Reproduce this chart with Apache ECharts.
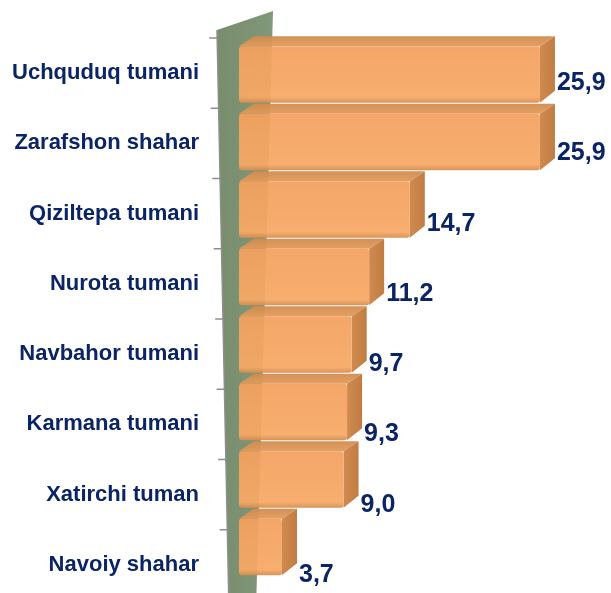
<!DOCTYPE html>
<html>
<head>
<meta charset="utf-8">
<script src="https://cdn.jsdelivr.net/npm/echarts@6/dist/echarts.min.js"></script>
<style>
  html, body { margin: 0; padding: 0; background: #fff; }
  #chart { width: 611px; height: 593px; }
</style>
</head>
<body>
<div id="chart"></div>
<script>
// data
const categories = [
  "Uchquduq tumani",
  "Zarafshon shahar",
  "Qiziltepa tumani",
  "Nurota tumani",
  "Navbahor tumani",
  "Karmana tumani",
  "Xatirchi tuman",
  "Navoiy shahar",
];
const values = [25.9, 25.9, 14.7, 11.2, 9.7, 9.3, 9.0, 3.7];

const textColor = "#0a2464";
const depthX = 15; // box depth, to the right
const depthY = 10; // box depth, upwards

const myChart = echarts.init(document.getElementById("chart"));

// green side wall + axis ticks along its left edge
function wallLeftX(y) {
  return 217 + ((y - 30) * 12) / 563;
}
function renderWall(params, api) {
  const cs = params.coordSys;
  const pts = [
    [cs.x - 22, cs.y - 8],
    [cs.x + 34, cs.y - 27],
    [cs.x + 17, cs.y + cs.height + 10],
    [cs.x - 10, cs.y + cs.height + 10],
  ];
  return {
    type: "group",
    children: [
      {
        type: "polygon",
        shape: { points: pts },
        style: {
          fill: new echarts.graphic.LinearGradient(0, 0, 1, 0, [
            { offset: 0, color: "#778d6c" },
            { offset: 1, color: "#81977a" },
          ]),
        },
      },
      {
        type: "line",
        shape: { x1: pts[0][0], y1: pts[0][1], x2: pts[3][0], y2: pts[3][1] },
        style: { stroke: "#8e8e8e", lineWidth: 1.5 },
      },
    ],
  };
}

// 3d looking box for each bar
function renderBox(params, api) {
  const c = api.value(1);
  const p0 = api.coord([0, c]);
  const p1 = api.coord([api.value(0), c]);
  const band = api.size([0, 1])[1];
  const h = band * 0.84;
  const x0 = p0[0];
  const x1 = p1[0];
  const yT = p0[1] - h / 2;
  const yB = p0[1] + h / 2;
  return {
    type: "group",
    children: [
      {
        type: "polygon",
        shape: {
          points: [
            [x0, yT],
            [x0 + depthX, yT - depthY],
            [x1 + depthX, yT - depthY],
            [x1, yT],
          ],
        },
        style: {
          fill: new echarts.graphic.LinearGradient(0, 0, 0, 1, [
            { offset: 0, color: "#d08b4f" },
            { offset: 1, color: "#e29a5a" },
          ]),
          opacity: 0.95,
        },
      },
      {
        type: "polygon",
        shape: {
          points: [
            [x1, yT],
            [x1 + depthX, yT - depthY],
            [x1 + depthX, yB - depthY - 2],
            [x1, yB],
          ],
        },
        style: {
          fill: new echarts.graphic.LinearGradient(0, 0, 1, 0, [
            { offset: 0, color: "#d08a4f" },
            { offset: 1, color: "#c07d43" },
          ]),
        },
      },
      {
        type: "rect",
        shape: { x: x0, y: yT, width: x1 - x0, height: h, r: 3 },
        style: {
          fill: new echarts.graphic.LinearGradient(0, 0, 0, 1, [
            { offset: 0, color: "#f3a15f" },
            { offset: 0.9, color: "#f7a965" },
            { offset: 1, color: "#d38d50" },
          ]),
          opacity: 0.94,
        },
      },
    ],
  };
}

// value labels and category ticks
function renderLabel(params, api) {
  const c = api.value(1);
  const p = api.coord([api.value(0), c]);
  const band = api.size([0, 1])[1];
  const yTick = p[1] - band / 2;
  const wx = wallLeftX(yTick);
  return {
    type: "group",
    children: [
      {
        type: "line",
        shape: { x1: wx - 8, y1: yTick, x2: wx, y2: yTick },
        style: { stroke: "#8e8e8e", lineWidth: 1.5 },
      },
      {
        type: "text",
        style: {
          x: p[0] + depthX + 2,
          y: p[1] + 10,
          text: api.value(2),
          fill: textColor,
          font: "bold 25px 'Liberation Sans', Arial, sans-serif",
          verticalAlign: "middle",
          align: "left",
        },
      },
    ],
  };
}

const boxData = values.map((v, i) => [v, i]);
const labelData = values.map((v, i) => [v, i, v.toFixed(1).replace(".", ",")]);

myChart.setOption({
  animation: false,
  grid: [
    { left: 239, top: 38, width: 348.6, height: 562, outerBoundsMode: "none" },
    { left: 239, top: 40.75, width: 348.6, height: 540, outerBoundsMode: "none" },
  ],
  xAxis: [
    { gridIndex: 0, type: "value", min: 0, max: 30, show: false },
    { gridIndex: 1, type: "value", min: 0, max: 30, show: false },
  ],
  yAxis: [
    {
      gridIndex: 0,
      type: "category",
      inverse: true,
      data: categories,
      offset: 22,
      axisLine: { show: false },
      axisTick: { show: false },
      axisLabel: {
        margin: 18,
        color: textColor,
        fontFamily: "'Liberation Sans', Arial, sans-serif",
        fontWeight: "bold",
        fontSize: 22,
      },
    },
    {
      gridIndex: 1,
      type: "category",
      inverse: true,
      data: categories,
      show: false,
    },
  ],
  series: [
    {
      type: "custom",
      xAxisIndex: 0,
      yAxisIndex: 0,
      z: 1,
      clip: false,
      data: [[0, 0]],
      renderItem: renderWall,
      silent: true,
    },
    {
      type: "custom",
      xAxisIndex: 1,
      yAxisIndex: 1,
      z: 3,
      data: boxData,
      encode: { x: 0, y: 1 },
      renderItem: renderBox,
    },
    {
      type: "custom",
      xAxisIndex: 0,
      yAxisIndex: 0,
      z: 4,
      data: labelData,
      encode: { x: 0, y: 1 },
      renderItem: renderLabel,
    },
  ],
});
</script>
</body>
</html>
